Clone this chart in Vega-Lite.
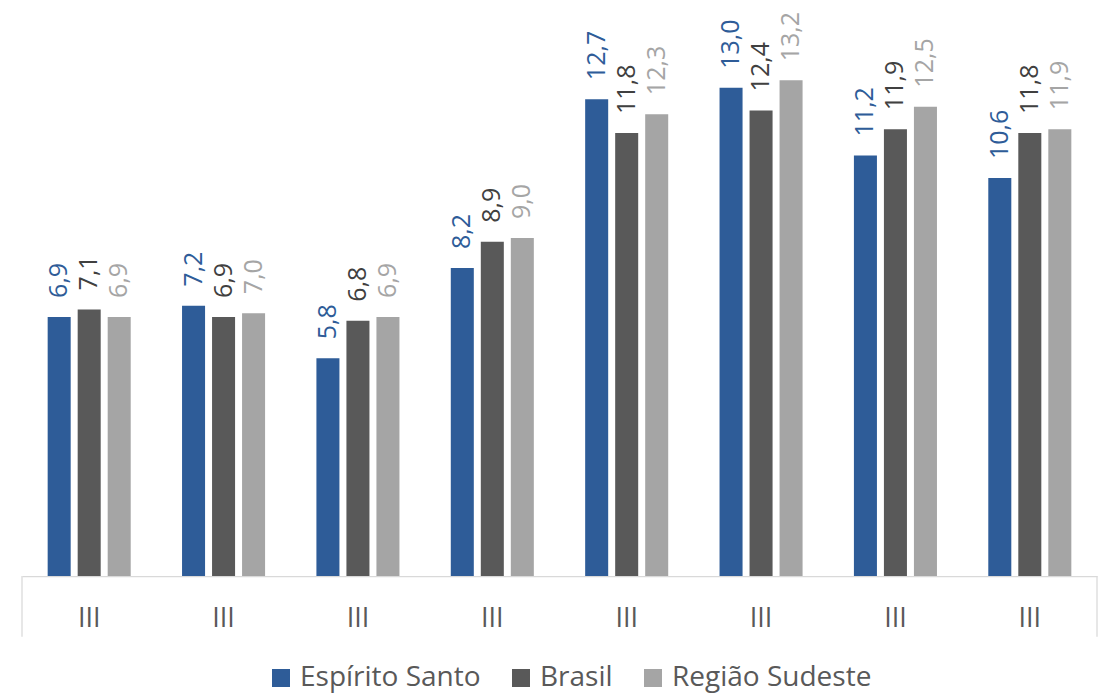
{
  "$schema": "https://vega.github.io/schema/vega-lite/v6.json",
  "width": 1075,
  "height": 576,
  "autosize": {"type": "none"},
  "padding": {"left": 22, "top": 0, "right": 10, "bottom": 117},
  "config": {
    "view": {"stroke": null},
    "font": "Open Sans",
    "locale": {"number": {"decimal": ",", "thousands": ".", "grouping": [3], "currency": ["R$", ""]}}
  },
  "data": {
    "values": [
      {"periodo": "III/2012", "serie": "Espírito Santo", "valor": 6.9},
      {"periodo": "III/2012", "serie": "Brasil", "valor": 7.1},
      {"periodo": "III/2012", "serie": "Região Sudeste", "valor": 6.9},
      {"periodo": "III/2013", "serie": "Espírito Santo", "valor": 7.2},
      {"periodo": "III/2013", "serie": "Brasil", "valor": 6.9},
      {"periodo": "III/2013", "serie": "Região Sudeste", "valor": 7.0},
      {"periodo": "III/2014", "serie": "Espírito Santo", "valor": 5.8},
      {"periodo": "III/2014", "serie": "Brasil", "valor": 6.8},
      {"periodo": "III/2014", "serie": "Região Sudeste", "valor": 6.9},
      {"periodo": "III/2015", "serie": "Espírito Santo", "valor": 8.2},
      {"periodo": "III/2015", "serie": "Brasil", "valor": 8.9},
      {"periodo": "III/2015", "serie": "Região Sudeste", "valor": 9.0},
      {"periodo": "III/2016", "serie": "Espírito Santo", "valor": 12.7},
      {"periodo": "III/2016", "serie": "Brasil", "valor": 11.8},
      {"periodo": "III/2016", "serie": "Região Sudeste", "valor": 12.3},
      {"periodo": "III/2017", "serie": "Espírito Santo", "valor": 13.0},
      {"periodo": "III/2017", "serie": "Brasil", "valor": 12.4},
      {"periodo": "III/2017", "serie": "Região Sudeste", "valor": 13.2},
      {"periodo": "III/2018", "serie": "Espírito Santo", "valor": 11.2},
      {"periodo": "III/2018", "serie": "Brasil", "valor": 11.9},
      {"periodo": "III/2018", "serie": "Região Sudeste", "valor": 12.5},
      {"periodo": "III/2019", "serie": "Espírito Santo", "valor": 10.6},
      {"periodo": "III/2019", "serie": "Brasil", "valor": 11.8},
      {"periodo": "III/2019", "serie": "Região Sudeste", "valor": 11.9}
    ]
  },
  "encoding": {
    "x": {
      "field": "periodo",
      "type": "nominal",
      "sort": null,
      "scale": {
        "domain": ["III/2012", "III/2013", "III/2014", "III/2015", "III/2016", "III/2017", "III/2018", "III/2019"],
        "paddingInner": 0.382,
        "paddingOuter": 0.191
      },
      "axis": {
        "title": null,
        "labelExpr": "'III'",
        "labelAngle": 0,
        "labelFontSize": 27,
        "labelColor": "#595959",
        "labelPadding": 29,
        "ticks": false,
        "domainColor": "#D9D9D9",
        "domainWidth": 1.25
      }
    }
  },
  "layer": [
    {
      "mark": {"type": "bar"},
      "encoding": {
        "y": {
          "field": "valor",
          "type": "quantitative",
          "scale": {"domain": [0, 15.34], "nice": false},
          "axis": null
        },
        "xOffset": {
          "field": "serie",
          "type": "nominal",
          "sort": ["Espírito Santo", "Brasil", "Região Sudeste"],
          "scale": {"paddingInner": 0.233, "paddingOuter": 0}
        },
        "color": {
          "field": "serie",
          "type": "nominal",
          "sort": ["Espírito Santo", "Brasil", "Região Sudeste"],
          "scale": {"domain": ["Espírito Santo", "Brasil", "Região Sudeste"], "range": ["#2E5C98", "#595959", "#A5A5A5"]},
          "legend": {
            "title": null,
            "orient": "none",
            "legendX": 245,
            "legendY": 664,
            "padding": 0,
            "direction": "horizontal",
            "symbolType": "square",
            "symbolSize": 324,
            "symbolStrokeWidth": 0,
            "labelFontSize": 28,
            "labelColor": "#595959",
            "labelOffset": 5,
            "labelLimit": 400,
            "columnPadding": 26
          }
        }
      }
    },
    {
      "mark": {"type": "text", "angle": 270, "align": "left", "baseline": "middle", "dx": 19, "fontSize": 25},
      "encoding": {
        "y": {"field": "valor", "type": "quantitative"},
        "xOffset": {
          "field": "serie",
          "type": "nominal",
          "sort": ["Espírito Santo", "Brasil", "Região Sudeste"],
          "scale": {"paddingInner": 0.233, "paddingOuter": 0}
        },
        "text": {"field": "valor", "type": "quantitative", "format": ".1f"},
        "color": {
          "field": "serie",
          "type": "nominal",
          "scale": {"domain": ["Espírito Santo", "Brasil", "Região Sudeste"], "range": ["#2E5C98", "#404040", "#A5A5A5"]},
          "legend": null
        }
      }
    },
    {
      "transform": [{"filter": "datum.periodo == 'III/2012' && datum.serie == 'Brasil'"}],
      "mark": {"type": "rule", "color": "#D9D9D9", "strokeWidth": 1.25, "xOffset": -25.67},
      "encoding": {
        "x": {"field": "periodo", "type": "nominal", "bandPosition": 0},
        "y": {"datum": 0, "type": "quantitative"},
        "y2": {"datum": -1.62}
      }
    },
    {
      "transform": [{"filter": "datum.periodo == 'III/2019' && datum.serie == 'Brasil'"}],
      "mark": {"type": "rule", "color": "#D9D9D9", "strokeWidth": 1.25, "xOffset": 25.67},
      "encoding": {
        "x": {"field": "periodo", "type": "nominal", "bandPosition": 1},
        "y": {"datum": 0, "type": "quantitative"},
        "y2": {"datum": -1.62}
      }
    }
  ],
  "resolve": {"scale": {"color": "independent"}}
}
